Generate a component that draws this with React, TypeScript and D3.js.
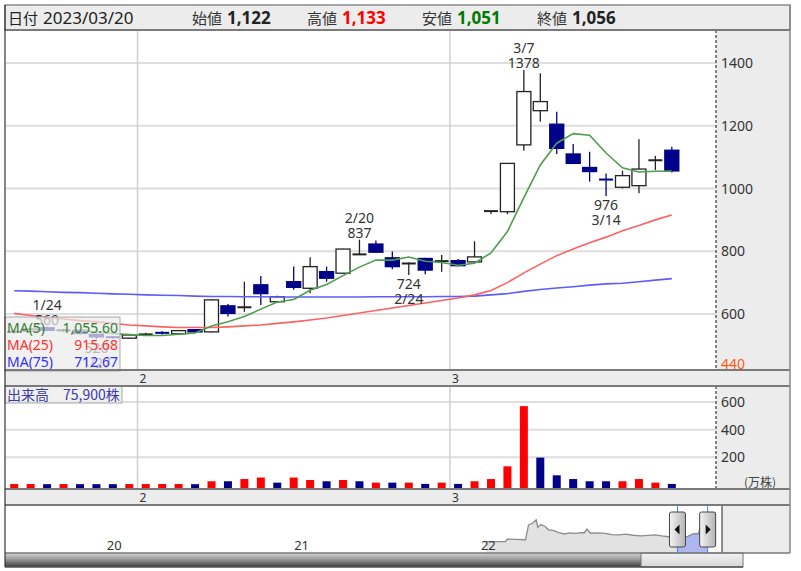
import React from 'react';
import * as d3 from 'd3';

// ---- daily prices (yen) ----
const tradeYear = 2023;
const dates = ['1/20','1/23','1/24','1/25','1/26','1/27','1/30','1/31','2/1','2/2','2/3','2/6','2/7','2/8','2/9','2/10','2/13','2/14','2/15','2/16','2/17','2/20','2/21','2/22','2/24','2/27','2/28','3/1','3/2','3/3','3/6','3/7','3/8','3/9','3/10','3/13','3/14','3/15','3/16','3/17','3/20'];
const opens = [542,545,556,546,548,535,528,523,534,542,537,550,543,626,620,693,639,703,682,735,730,790,823,779,760,777,767,770,766,928,926,1139,1248,1205,1110,1067,1030,1004,1009,1088,1122];
const highs = [548,555,560,553,550,538,530,535,540,545,549,552,647,632,703,721,658,751,781,751,808,837,834,799,764,779,788,775,832,928,1081,1378,1367,1245,1142,1117,1048,1057,1157,1104,1133];
const lows = [538,543,545,542,535,520,521,522,531,535,535,540,541,592,607,629,636,677,666,703,728,788,795,743,724,727,735,752,764,919,918,1120,1213,1110,1078,1022,976,1000,985,1059,1051];
const closes = [545,552,548,550,538,527,524,533,536,538,547,543,645,602,623,665,655,685,751,714,807,790,797,751,762,740,770,754,782,928,1080,1309,1277,1128,1080,1054,1027,1041,1062,1092,1056];
// volume in 万株
const volumes = [7,7,6,7,6,6,6,7,7,7,7,6,27,27,43,54,17,54,36,27,36,27,17,17,17,8,17,8,27,43,135,570,198,70,43,27,27,27,43,17,7.59];
// longer moving averages (need history before the window)
const ma25 = [602,595,589,584,579,575,570,565,562,559,557,557,557,559,562,565,570,575,581,587,595,603,611,619,627,635,643,651,661,675,700,731,759,786,807,827,845,865,882,900,915.68];
const ma75 = [674,673,671,669,668,666,664,663,661,660,659,657,656,656,655,655,654,654,654,654,654,654,655,655,655,655,656,656,657,661,665,672,678,683,687,692,696,698,703,708,712.67];

const priceTicks = [600, 800, 1000, 1200, 1400];
const priceFloor = 440;
const volumeTicks = [200, 400, 600];

// local highs / lows called out on the chart
const markDates = ['1/24', '1/27', '2/20', '2/24', '3/7', '3/14'];
const markKinds = ['high', 'low', 'high', 'low', 'high', 'low'];

// long-range closes for the navigator strip
const navDates = ['2022-01-11','2022-02-18','2022-02-21','2022-03-10','2022-03-29','2022-04-04','2022-04-12','2022-04-19','2022-04-22','2022-04-28','2022-05-06','2022-05-13','2022-05-24','2022-06-02','2022-06-13','2022-06-23','2022-07-05','2022-07-15','2022-07-22','2022-07-27','2022-08-03','2022-08-18','2022-09-01','2022-09-14','2022-09-27','2022-10-11','2022-10-25','2022-11-10','2022-11-24','2022-12-08','2022-12-20','2022-12-30','2023-01-13','2023-01-24','2023-02-09','2023-02-20','2023-03-02','2023-03-07','2023-03-13','2023-03-20'];
const navCloses = [348,350,482,470,452,1270,1360,1550,1130,1290,1200,1000,950,850,770,830,800,850,840,1040,810,830,800,740,720,760,700,665,690,720,660,630,560,548,640,790,782,1309,1054,1056];
const navYearTicks = ['2020-01-01', '2021-01-01', '2022-01-01'];

const FONT = '"Noto Sans", "DejaVu Sans", sans-serif';
const JP = '"Noto Sans CJK JP", "Noto Sans", sans-serif';

const UP_VOL = '#ff0000';
const DOWN = '#000088';
const MA5_C = '#4e9e4e';
const MA25_C = '#ff6060';
const MA75_C = '#5c5cff';
const PANEL_BG = '#ececec';
const GRID = '#dedede';

export default function App() {
  const left = 5, right = 790, plotRight = 716;
  const headTop = 5, headBottom = 30;
  const priceTop = 30, priceBottom = 370;
  const volTop = 386, volBottom = 489;
  const navTop = 505, navBottom = 553, scrollBottom = 567;
  const navRight = 722;
  const step = 16.44;

  const x = d3.scaleBand<string>().domain(dates).range([6, 6 + step * dates.length]);
  const cx = (i: number) => (x(dates[i]) as number) + x.bandwidth() / 2;
  const yP = d3.scaleLinear().domain([600, 1400]).range([314, 63]);
  const yV = d3.scaleLinear().domain([0, 600]).range([485, 402]);

  const ma5 = closes.map((_, i) => (i < 4 ? null : (d3.mean(closes.slice(i - 4, i + 1)) as number)));
  const maLine = d3
    .line<number | null>()
    .defined((d) => d != null)
    .x((_, i) => cx(i))
    .y((d) => yP(d as number));

  const bodyW = 14;
  const volW = 8;
  const last = dates.length - 1;

  const monthOf = (d: string) => d.split('/')[0];
  const monthStarts = dates
    .map((d, i) => ({ d, i }))
    .filter(({ d, i }) => i > 0 && monthOf(d) !== monthOf(dates[i - 1]));

  const fmtInt = d3.format(',');
  const fmt2 = d3.format(',.2f');
  const pad = (s: string) => (s.length < 2 ? '0' + s : s);
  const [lm, ld] = dates[last].split('/');
  const headerDate = `${tradeYear}/${pad(lm)}/${pad(ld)}`;

  // navigator scales
  const parse = d3.timeParse('%Y-%m-%d');
  const nx = d3.scaleTime().domain([new Date(2019, 5, 16), new Date(2023, 3, 17)]).range([left, navRight]);
  const ny = d3.scaleLinear().domain([-280, 2370]).range([navBottom, navTop]);
  const navPts: [Date, number][] = navDates.map((d, i) => [parse(d) as Date, navCloses[i]]);
  const navArea = d3.area<[Date, number]>().x((d) => nx(d[0])).y0(navBottom).y1((d) => ny(d[1]));
  const navLine = d3.line<[Date, number]>().x((d) => nx(d[0])).y((d) => ny(d[1]));
  const toDate = (md: string) => {
    const [m, d] = md.split('/').map(Number);
    return new Date(tradeYear, m - 1, d);
  };
  const winL = nx(toDate(dates[0]));
  const winR = nx(toDate(dates[last]));

  const handle = (hx: number, dir: number, key: string) => {
    const hw = 16, hy = 512, hh = 35;
    const ax = hx, ay = hy + hh / 2;
    const tri = dir < 0
      ? `M${ax - 3},${ay} L${ax + 2},${ay - 5} L${ax + 2},${ay + 5} Z`
      : `M${ax + 3},${ay} L${ax - 2},${ay - 5} L${ax - 2},${ay + 5} Z`;
    return (
      <g key={key}>
        <rect x={hx - hw / 2} y={hy} width={hw} height={hh} rx={2} fill="url(#handleGrad)" stroke="#444" strokeWidth={1} />
        <path d={tri} fill="#111" />
      </g>
    );
  };

  return (
    <svg
      width={801}
      height={571}
      style={{ position: 'absolute', left: 0, top: 0, background: '#fff' }}
      fontFamily={FONT}
    >
      <defs>
        <clipPath id="priceClip">
          <rect x={left + 1} y={priceTop + 1} width={plotRight - left - 1} height={priceBottom - priceTop - 1} />
        </clipPath>
        <clipPath id="winClip">
          <rect x={winL} y={navTop} width={winR - winL} height={navBottom - navTop} />
        </clipPath>
        <clipPath id="axisClip">
          <rect x={plotRight} y={priceTop} width={right - plotRight} height={priceBottom - priceTop} />
        </clipPath>
        <linearGradient id="trackGrad" x1="0" y1="0" x2="0" y2="1">
          <stop offset="0%" stopColor="#d4d4d4" />
          <stop offset="45%" stopColor="#9a9a9a" />
          <stop offset="100%" stopColor="#3c3c3c" />
        </linearGradient>
        <linearGradient id="thumbGrad" x1="0" y1="0" x2="0" y2="1">
          <stop offset="0%" stopColor="#f2f2f2" />
          <stop offset="100%" stopColor="#d6d6d6" />
        </linearGradient>
        <linearGradient id="handleGrad" x1="0" y1="0" x2="1" y2="0">
          <stop offset="0%" stopColor="#f4f4f4" />
          <stop offset="100%" stopColor="#b4b4b4" />
        </linearGradient>
      </defs>

      {/* header bar */}
      <rect x={left} y={headTop} width={right - left} height={headBottom - headTop} fill={PANEL_BG} stroke="#8a8a8a" strokeWidth={1.5} />
      <text y={24} fill="#222">
        <tspan x={8} fontFamily={JP} fontSize={15}>日付</tspan>
        <tspan x={43} fontSize={17}>{headerDate}</tspan>
      </text>
      <text y={24} fill="#222">
        <tspan x={192} fontFamily={JP} fontSize={15} fill="#333">始値</tspan>
        <tspan x={227} fontSize={17} fontWeight="bold">{fmtInt(opens[last])}</tspan>
        <tspan x={307} fontFamily={JP} fontSize={15} fill="#333">高値</tspan>
        <tspan x={342} fontSize={17} fontWeight="bold" fill="#ff0000">{fmtInt(highs[last])}</tspan>
        <tspan x={422} fontFamily={JP} fontSize={15} fill="#333">安値</tspan>
        <tspan x={457} fontSize={17} fontWeight="bold" fill="#007a00">{fmtInt(lows[last])}</tspan>
        <tspan x={537} fontFamily={JP} fontSize={15} fill="#333">終値</tspan>
        <tspan x={572} fontSize={17} fontWeight="bold">{fmtInt(closes[last])}</tspan>
      </text>

      {/* axis backgrounds */}
      <rect x={plotRight} y={priceTop} width={right - plotRight} height={priceBottom - priceTop} fill={PANEL_BG} />
      <rect x={left} y={priceBottom} width={right - left} height={volTop - priceBottom} fill={PANEL_BG} />
      <rect x={plotRight} y={volTop} width={right - plotRight} height={volBottom - volTop} fill={PANEL_BG} />
      <rect x={left} y={volBottom} width={right - left} height={navTop - volBottom} fill={PANEL_BG} />
      <rect x={navRight} y={navTop} width={right - navRight} height={navBottom - navTop} fill={PANEL_BG} />

      {/* price grid */}
      {priceTicks.map((t) => (
        <line key={'pg' + t} x1={left + 1} x2={plotRight} y1={yP(t)} y2={yP(t)} stroke={GRID} strokeWidth={2} />
      ))}
      {volumeTicks.map((t) => (
        <line key={'vg' + t} x1={left + 1} x2={plotRight} y1={yV(t)} y2={yV(t)} stroke={GRID} strokeWidth={2} />
      ))}
      {monthStarts.map(({ d }) => (
        <g key={'ms' + d}>
          <line x1={x(d)} x2={x(d)} y1={priceTop} y2={priceBottom} stroke="#d0d0d0" strokeWidth={1.5} />
          <line x1={x(d)} x2={x(d)} y1={volTop} y2={volBottom} stroke="#d0d0d0" strokeWidth={1.5} />
          <text x={(x(d) as number) + 2} y={383} fontSize={12} fill="#333">{monthOf(d)}</text>
          <text x={(x(d) as number) + 2} y={502} fontSize={12} fill="#333">{monthOf(d)}</text>
        </g>
      ))}

      {/* candles */}
      <g clipPath="url(#priceClip)">
        {dates.map((d, i) => {
          const o = opens[i], c = closes[i];
          const up = c > o, down = c < o;
          const col = down ? DOWN : '#222';
          const xc = cx(i);
          const top = yP(Math.max(o, c));
          const bot = yP(Math.min(o, c));
          return (
            <g key={'c' + d}>
              <line x1={xc} x2={xc} y1={yP(highs[i])} y2={yP(lows[i])} stroke={col} strokeWidth={1.3} />
              {up || down ? (
                bot - top < 1.5 ? (
                  <line x1={xc - bodyW / 2} x2={xc + bodyW / 2} y1={(top + bot) / 2} y2={(top + bot) / 2} stroke={col} strokeWidth={2} />
                ) : (
                  <rect
                    x={xc - bodyW / 2}
                    y={top}
                    width={bodyW}
                    height={bot - top}
                    fill={up ? '#fff' : DOWN}
                    stroke={col}
                    strokeWidth={1.3}
                  />
                )
              ) : (
                <line x1={xc - bodyW / 2} x2={xc + bodyW / 2} y1={top} y2={top} stroke={col} strokeWidth={2} />
              )}
            </g>
          );
        })}

        {/* moving averages */}
        <path d={maLine(ma75) ?? ''} fill="none" stroke={MA75_C} strokeWidth={1.6} />
        <path d={maLine(ma25) ?? ''} fill="none" stroke={MA25_C} strokeWidth={1.6} />
        <path d={maLine(ma5) ?? ''} fill="none" stroke={MA5_C} strokeWidth={1.6} />

        {/* high / low call-outs */}
        {markDates.map((md, k) => {
          const i = dates.indexOf(md);
          const xc = cx(i);
          if (markKinds[k] === 'high') {
            const yh = yP(highs[i]);
            return (
              <g key={'mk' + md} fontSize={14} fill="#333" textAnchor="middle">
                <text x={xc} y={yh - 17}>{md}</text>
                <text x={xc} y={yh - 2}>{highs[i]}</text>
              </g>
            );
          }
          const yl = yP(lows[i]);
          return (
            <g key={'mk' + md} fontSize={14} fill="#333" textAnchor="middle">
              <text x={xc} y={yl + 14}>{lows[i]}</text>
              <text x={xc} y={yl + 29}>{md}</text>
            </g>
          );
        })}
      </g>

      {/* moving average legend */}
      <rect x={left} y={317} width={115} height={54} fill="rgba(236,236,236,0.72)" stroke="#a8a8a8" strokeWidth={1} />
      {[
        { label: 'MA(5)', value: ma5[last] as number, color: '#2f7f2f', y: 333 },
        { label: 'MA(25)', value: ma25[last], color: '#ff3030', y: 350 },
        { label: 'MA(75)', value: ma75[last], color: '#3030ff', y: 367 },
      ].map((r) => (
        <g key={r.label} fontSize={14} fill={r.color}>
          <text x={7} y={r.y}>{r.label}</text>
          <text x={118} y={r.y} textAnchor="end">{fmt2(r.value)}</text>
        </g>
      ))}

      {/* price axis labels */}
      {priceTicks.map((t) => (
        <text key={'pl' + t} x={721} y={yP(t) + 5} fontSize={14} fill="#333">{t}</text>
      ))}
      <g clipPath="url(#axisClip)">
        <text x={721} y={yP(priceFloor) + 5} fontSize={14} fill="#ff5a1a">{priceFloor}</text>
      </g>

      {/* volume bars */}
      {dates.map((d, i) => {
        const rising = i === 0 ? closes[0] >= opens[0] : closes[i] >= closes[i - 1];
        const top = yV(volumes[i]);
        return (
          <rect
            key={'v' + d}
            x={cx(i) - volW / 2}
            y={top}
            width={volW}
            height={volBottom - top}
            fill={rising ? UP_VOL : DOWN}
          />
        );
      })}
      {volumeTicks.map((t) => (
        <text key={'vl' + t} x={721} y={yV(t) + 5} fontSize={14} fill="#333">{t}</text>
      ))}
      <text x={760} y={487} fontSize={12} fill="#444" textAnchor="middle" fontFamily={JP}>(万株)</text>

      {/* volume legend */}
      <rect x={left} y={386} width={117} height={17} fill="rgba(236,236,236,0.8)" stroke="#a8a8a8" strokeWidth={1} />
      <text x={7} y={400} fontSize={14} fill="#3a3aaa" fontFamily={JP}>
        出来高　{fmtInt(Math.round(volumes[last] * 10000))}株
      </text>

      {/* right-axis divider */}
      <line x1={plotRight} x2={plotRight} y1={priceTop} y2={priceBottom} stroke="#111" strokeDasharray="3,2" />
      <line x1={plotRight} x2={plotRight} y1={volTop} y2={volBottom} stroke="#111" strokeDasharray="3,2" />

      {/* navigator */}
      <path d={navArea(navPts) ?? ''} fill="#e2e2e2" />
      <g clipPath="url(#winClip)">
        <path d={navArea(navPts) ?? ''} fill="#aeb6f2" />
      </g>
      <path d={navLine(navPts) ?? ''} fill="none" stroke="#8c8c8c" strokeWidth={1.3} />
      {navYearTicks.map((t) => {
        const dt = parse(t) as Date;
        return (
          <text key={t} x={nx(dt)} y={550} fontSize={13} fill="#333">{d3.timeFormat('%y')(dt)}</text>
        );
      })}
      <line x1={winL} x2={winL} y1={navTop} y2={navBottom} stroke="#3a8fd0" strokeWidth={1} />
      <line x1={winR} x2={winR} y1={navTop} y2={navBottom} stroke="#3a8fd0" strokeWidth={1} />
      {handle(winL, -1, 'hl')}
      {handle(winR, 1, 'hr')}
      <line x1={navRight} x2={navRight} y1={navTop} y2={navBottom} stroke="#222" strokeWidth={1} />

      {/* scrollbar */}
      <rect x={left} y={navBottom} width={641 - left} height={scrollBottom - navBottom} fill="url(#trackGrad)" />
      <rect x={641} y={navBottom} width={102} height={scrollBottom - navBottom} fill="url(#thumbGrad)" stroke="#777" strokeWidth={1} />
      <line x1={left} x2={743} y1={scrollBottom} y2={scrollBottom} stroke="#555" strokeWidth={1.5} />

      {/* panel borders */}
      <line x1={left} x2={right} y1={priceTop} y2={priceTop} stroke="#7a7a7a" strokeWidth={2} />
      <line x1={left} x2={right} y1={priceBottom} y2={priceBottom} stroke="#7a7a7a" strokeWidth={2} />
      <line x1={left} x2={right} y1={volTop} y2={volTop} stroke="#7a7a7a" strokeWidth={2} />
      <line x1={left} x2={right} y1={volBottom} y2={volBottom} stroke="#7a7a7a" strokeWidth={2} />
      <line x1={left} x2={right} y1={navTop} y2={navTop} stroke="#7a7a7a" strokeWidth={2} />
      <line x1={left} x2={right} y1={navBottom} y2={navBottom} stroke="#7a7a7a" strokeWidth={1.5} />
      <line x1={left} x2={left} y1={headTop} y2={scrollBottom} stroke="#333" strokeWidth={1.2} />
      <line x1={right} x2={right} y1={headTop} y2={navBottom} stroke="#888" strokeWidth={1.5} />
    </svg>
  );
}
